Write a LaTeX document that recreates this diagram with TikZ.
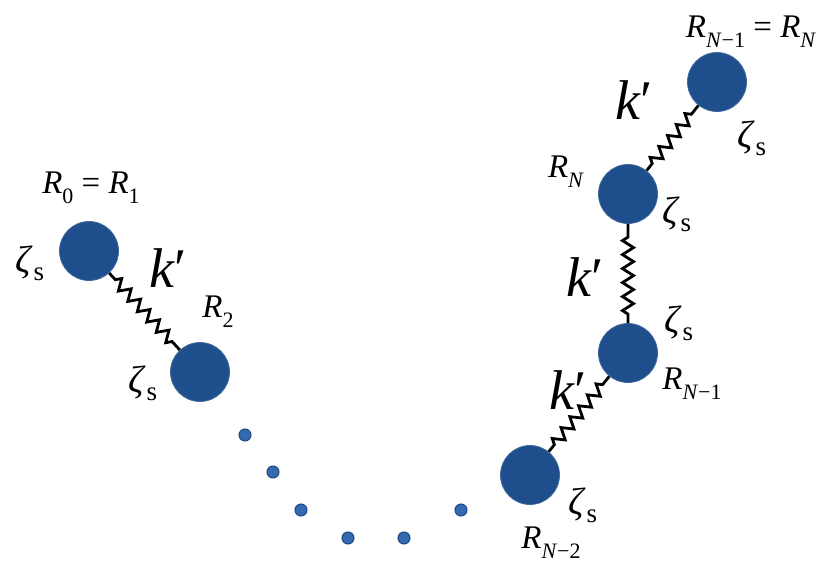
\documentclass[tikz,border=0pt]{standalone}
\usepackage{fontspec}
\setmainfont{Liberation Serif}
\usetikzlibrary{decorations.pathmorphing}
\definecolor{ballblue}{RGB}{31,78,140}
\definecolor{dotblue}{RGB}{52,106,176}
\definecolor{dotedge}{RGB}{30,70,130}
\newcommand{\zetas}{{\fontsize{38}{40}\selectfont\textit{ζ}}\raisebox{-0.25em}{\fontsize{27}{29}\selectfont s}}
\newcommand{\kpr}{\textit{k}′}
\newcommand{\sbs}[1]{\raisebox{-0.3em}{\fontsize{22}{24}\selectfont #1}}
\begin{document}
\begin{tikzpicture}[x=1pt,y=-1pt,
  ball/.style={circle,fill=ballblue,draw=ballblue!85!white,line width=0.8pt,minimum size=59pt,inner sep=0pt},
  smalldot/.style={circle,fill=dotblue,draw=dotedge,line width=1pt,minimum size=12pt,inner sep=0pt},
  spring/.style={line width=2.8pt,decorate,decoration={zigzag,segment length=14pt,amplitude=5.5pt,pre length=9pt,post length=9pt}},
  lab/.style={font=\fontsize{33}{35}\selectfont,inner sep=0pt},
  klab/.style={font=\fontsize{56}{58}\selectfont,inner sep=0pt}]
\useasboundingbox (0,0) rectangle (825,565);
% balls
\node[ball] (A) at (89,251) {};
\node[ball] (B) at (200,372) {};
\node[ball] (C) at (530,475) {};
\node[ball] (D) at (628,353) {};
\node[ball] (E) at (628,194) {};
\node[ball] (F) at (717,82) {};
% small dots
\node[smalldot] (d1) at (245,435) {};
\node[smalldot] (d2) at (273,472) {};
\node[smalldot] (d3) at (301,510) {};
\node[smalldot] (d4) at (348,538) {};
\node[smalldot] (d5) at (404,538) {};
\node[smalldot] (d6) at (461,510) {};
% springs
\draw[spring] (A) -- (B);
\draw[spring] (C) -- (D);
\draw[spring] (D) -- (E);
\draw[spring] (E) -- (F);
% labels
\node[lab] (lA) at (91,188) {\textit{R}\sbs{0} = \textit{R}\sbs{1}};
\node[lab] (zA) at (30,263) {\zetas};
\node[klab] (k1) at (168,268) {\kpr};
\node[lab] (lB) at (218,312) {\textit{R}\sbs{2}};
\node[lab] (zB) at (143,383) {\zetas};
\node[lab] (lF) at (751,32) {\textit{R}\sbs{\textit{N}−1} = \textit{R}\sbs{\textit{N}}};
\node[klab] (k4) at (634,100) {\kpr};
\node[lab] (zF) at (752,138) {\zetas};
\node[lab] (lE) at (566,172) {\textit{R}\sbs{\textit{N}}};
\node[lab] (zE) at (677,214) {\zetas};
\node[klab] (k3) at (585,277) {\kpr};
\node[lab] (zD) at (679,323) {\zetas};
\node[lab] (lD) at (692,384) {\textit{R}\sbs{\textit{N}−1}};
\node[klab] (k2) at (568,390) {\kpr};
\node[lab] (zC) at (583,505) {\zetas};
\node[lab] (lC) at (551,543) {\textit{R}\sbs{\textit{N}−2}};
\end{tikzpicture}
\end{document}
